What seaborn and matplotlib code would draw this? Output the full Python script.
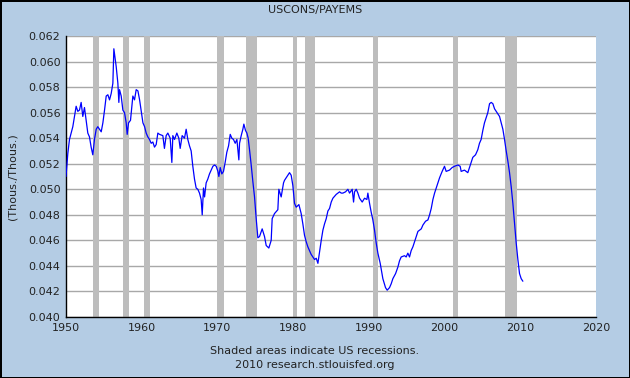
import matplotlib
matplotlib.use("Agg")
import matplotlib.pyplot as plt
import seaborn as sns
import pandas as pd

# USCONS / PAYEMS ratio (decimal year, ratio)
years = [
    1950.00, 1950.24, 1950.46, 1950.68, 1950.90, 1951.12, 1951.34, 1951.56, 1951.78, 1952.00,
    1952.22, 1952.44, 1952.66, 1952.88, 1953.10, 1953.32, 1953.54, 1953.76, 1953.99, 1954.20,
    1954.43, 1954.65, 1954.87, 1955.09, 1955.31, 1955.53, 1955.75, 1955.97, 1956.19, 1956.32,
    1956.49, 1956.63, 1956.85, 1956.98, 1957.07, 1957.29, 1957.51, 1957.73, 1957.95, 1958.08,
    1958.26, 1958.52, 1958.70, 1958.83, 1959.05, 1959.27, 1959.50, 1959.72, 1959.94, 1960.16,
    1960.38, 1960.59, 1960.81, 1961.03, 1961.25, 1961.47, 1961.69, 1961.91, 1962.13,
    1962.35, 1962.79, 1963.00, 1963.23, 1963.45, 1963.76, 1963.98, 1964.11, 1964.33, 1964.64,
    1964.90, 1965.08, 1965.34, 1965.65, 1965.87, 1966.09, 1966.31, 1966.53, 1966.75, 1966.97,
    1967.19, 1967.41, 1967.63, 1967.85, 1967.99, 1968.16, 1968.30, 1968.51, 1968.73, 1968.95,
    1969.18, 1969.40, 1969.62, 1969.84, 1970.06, 1970.19, 1970.37, 1970.58, 1970.80, 1971.02,
    1971.24, 1971.47, 1971.69, 1971.90, 1972.12, 1972.35, 1972.57, 1972.83, 1972.92, 1973.14,
    1973.36, 1973.49, 1973.71, 1973.89, 1974.06, 1974.24, 1974.46, 1974.68, 1974.90, 1975.12,
    1975.34, 1975.56, 1975.91, 1976.22, 1976.44, 1976.79, 1977.10, 1977.23, 1977.54, 1977.98,
    1978.11, 1978.42, 1978.73, 1978.86, 1979.30, 1979.52, 1979.74, 1979.96, 1980.18, 1980.40,
    1980.76, 1981.06, 1981.28, 1981.50, 1981.72, 1981.94, 1982.16, 1982.38, 1982.60, 1982.83,
    1983.05, 1983.27, 1983.49, 1983.71, 1983.93, 1984.15, 1984.37, 1984.59, 1984.81, 1985.03,
    1985.25, 1985.69, 1986.13, 1986.35, 1986.57, 1986.92, 1987.23, 1987.45, 1987.80, 1987.98,
    1988.11, 1988.33, 1988.55, 1988.77, 1989.12, 1989.43, 1989.74, 1989.87, 1990.09, 1990.31,
    1990.53, 1990.75, 1990.97, 1991.19, 1991.50, 1991.85, 1992.20, 1992.42, 1992.73, 1992.95,
    1993.17, 1993.53, 1993.83, 1994.05, 1994.27, 1994.71, 1994.93, 1995.15, 1995.37, 1995.59,
    1995.82, 1996.04, 1996.26, 1996.48, 1996.70, 1996.92, 1997.14, 1997.49, 1997.80, 1998.02,
    1998.24, 1998.46, 1998.68, 1998.90, 1999.12, 1999.34, 1999.68, 1999.99, 2000.21, 2000.65,
    2001.00, 2001.31, 2001.75, 2002.06, 2002.19, 2002.63, 2003.07, 2003.29, 2003.51, 2003.73,
    2004.09, 2004.39, 2004.61, 2004.83, 2005.05, 2005.27, 2005.49, 2005.71, 2005.94, 2006.16,
    2006.38, 2006.60, 2006.82, 2007.04, 2007.26, 2007.48, 2007.70, 2007.92, 2008.14, 2008.36,
    2008.58, 2008.80, 2009.02, 2009.24, 2009.46, 2009.68, 2009.90, 2010.12, 2010.34,
]
ratio = [
    0.0510, 0.0528, 0.0539, 0.0544, 0.0549, 0.0557, 0.0565, 0.0561, 0.0562, 0.0568,
    0.0557, 0.0564, 0.0554, 0.0544, 0.0541, 0.0533, 0.0527, 0.0539, 0.0547, 0.0549,
    0.0547, 0.0545, 0.0552, 0.0562, 0.0573, 0.0574, 0.0570, 0.0575, 0.0583, 0.0610,
    0.0602, 0.0596, 0.0583, 0.0568, 0.0578, 0.0573, 0.0562, 0.0560, 0.0552, 0.0543,
    0.0552, 0.0554, 0.0565, 0.0573, 0.0570, 0.0578, 0.0577, 0.0570, 0.0561, 0.0552,
    0.0549, 0.0544, 0.0541, 0.0539, 0.0536, 0.0537, 0.0533, 0.0535, 0.0544,
    0.0543, 0.0542, 0.0532, 0.0542, 0.0544, 0.0540, 0.0521, 0.0542, 0.0539, 0.0544,
    0.0540, 0.0532, 0.0542, 0.0540, 0.0547, 0.0539, 0.0534, 0.0530, 0.0518, 0.0508,
    0.0501, 0.0500, 0.0497, 0.0492, 0.0480, 0.0501, 0.0494, 0.0505, 0.0508, 0.0512,
    0.0515, 0.0518, 0.0519, 0.0518, 0.0514, 0.0510, 0.0517, 0.0512, 0.0514, 0.0521,
    0.0529, 0.0534, 0.0543, 0.0540, 0.0539, 0.0536, 0.0539, 0.0523, 0.0536, 0.0542,
    0.0547, 0.0551, 0.0546, 0.0544, 0.0540, 0.0531, 0.0519, 0.0506, 0.0494, 0.0477,
    0.0462, 0.0463, 0.0469, 0.0463, 0.0456, 0.0454, 0.0460, 0.0477, 0.0481, 0.0484,
    0.0500, 0.0494, 0.0505, 0.0507, 0.0511, 0.0513, 0.0511, 0.0503, 0.0489, 0.0486,
    0.0488, 0.0481, 0.0473, 0.0464, 0.0459, 0.0455, 0.0452, 0.0449, 0.0447, 0.0445,
    0.0446, 0.0442, 0.0451, 0.0460, 0.0468, 0.0473, 0.0477, 0.0483, 0.0485, 0.0490,
    0.0493, 0.0496, 0.0498, 0.0497, 0.0497, 0.0498, 0.0500, 0.0497, 0.0500, 0.0490,
    0.0498, 0.0500, 0.0497, 0.0493, 0.0490, 0.0493, 0.0492, 0.0497, 0.0489, 0.0482,
    0.0476, 0.0468, 0.0458, 0.0450, 0.0442, 0.0430, 0.0423, 0.0421, 0.0423, 0.0426,
    0.0430, 0.0434, 0.0439, 0.0444, 0.0447, 0.0448, 0.0447, 0.0450, 0.0447, 0.0452,
    0.0455, 0.0459, 0.0463, 0.0467, 0.0468, 0.0469, 0.0472, 0.0475, 0.0476, 0.0480,
    0.0485, 0.0492, 0.0497, 0.0501, 0.0505, 0.0509, 0.0514, 0.0518, 0.0514, 0.0515,
    0.0517, 0.0518, 0.0519, 0.0518, 0.0514, 0.0515, 0.0513, 0.0517, 0.0521, 0.0525,
    0.0527, 0.0531, 0.0536, 0.0539, 0.0546, 0.0552, 0.0556, 0.0560, 0.0567, 0.0568,
    0.0567, 0.0563, 0.0561, 0.0559, 0.0557, 0.0552, 0.0547, 0.0539, 0.0530, 0.0522,
    0.0513, 0.0502, 0.0489, 0.0473, 0.0458, 0.0445, 0.0434, 0.0430, 0.0428,
]

# NBER recessions (start, end) as decimal years
rec_start = [1953.50, 1957.58, 1960.25, 1969.92, 1973.83, 1980.00, 1981.50, 1990.50, 2001.17, 2007.92]
rec_end = [1954.42, 1958.33, 1961.08, 1970.83, 1975.17, 1980.50, 1982.83, 1991.17, 2001.83, 2009.50]

x_ticks = [1950, 1960, 1970, 1980, 1990, 2000, 2010, 2020]
y_ticks = [0.040, 0.042, 0.044, 0.046, 0.048, 0.050, 0.052, 0.054, 0.056, 0.058, 0.060, 0.062]

df = pd.DataFrame({"year": years, "ratio": ratio})

sns.set_style("white")
plt.rcParams["font.family"] = ["DejaVu Sans"]

bg = "#b4cce4"
fig = plt.figure(figsize=(6.3, 3.78), dpi=100, facecolor=bg)
fig.patch.set_edgecolor("black")
fig.patch.set_linewidth(2)
ax = fig.add_axes([66 / 630, 1 - 317 / 378, 530 / 630, 281 / 378])
ax.set_facecolor("white")

for s, e in zip(rec_start, rec_end):
    ax.axvspan(s, e, color="#bdbdbd", lw=0, zorder=1)

for yv in y_ticks:
    ax.axhline(yv, color="#a8a8a8", lw=1, zorder=0.5)

sns.lineplot(data=df, x="year", y="ratio", ax=ax, color="#0000ff",
             lw=0.9, estimator=None, zorder=3)

ax.set_xlim(1950, 2020)
ax.set_ylim(0.040, 0.062)
ax.set_xticks(x_ticks)
ax.set_yticks(y_ticks)
ax.set_yticklabels([f"{v:.3f}" for v in y_ticks])
ax.tick_params(direction="in", length=5, width=1, color="black",
               labelsize=8, labelcolor="#222222", pad=4)
ax.set_xlabel("")
ax.set_ylabel("(Thous./Thous.)", fontsize=8, color="#222222", labelpad=8)

for side in ["top", "right"]:
    ax.spines[side].set_visible(False)
for side in ["left", "bottom"]:
    ax.spines[side].set_color("black")
    ax.spines[side].set_linewidth(1)

fig.text(0.5, 1 - 10 / 378, "USCONS/PAYEMS", ha="center", va="center",
         fontsize=8, color="#222222")
fig.text(0.5, 1 - 351 / 378, "Shaded areas indicate US recessions.",
         ha="center", va="center", fontsize=8, color="#222222")
fig.text(0.5, 1 - 365 / 378, "2010 research.stlouisfed.org",
         ha="center", va="center", fontsize=8, color="#222222")

fig.savefig("out.png", dpi=100, facecolor=bg, edgecolor="black")
